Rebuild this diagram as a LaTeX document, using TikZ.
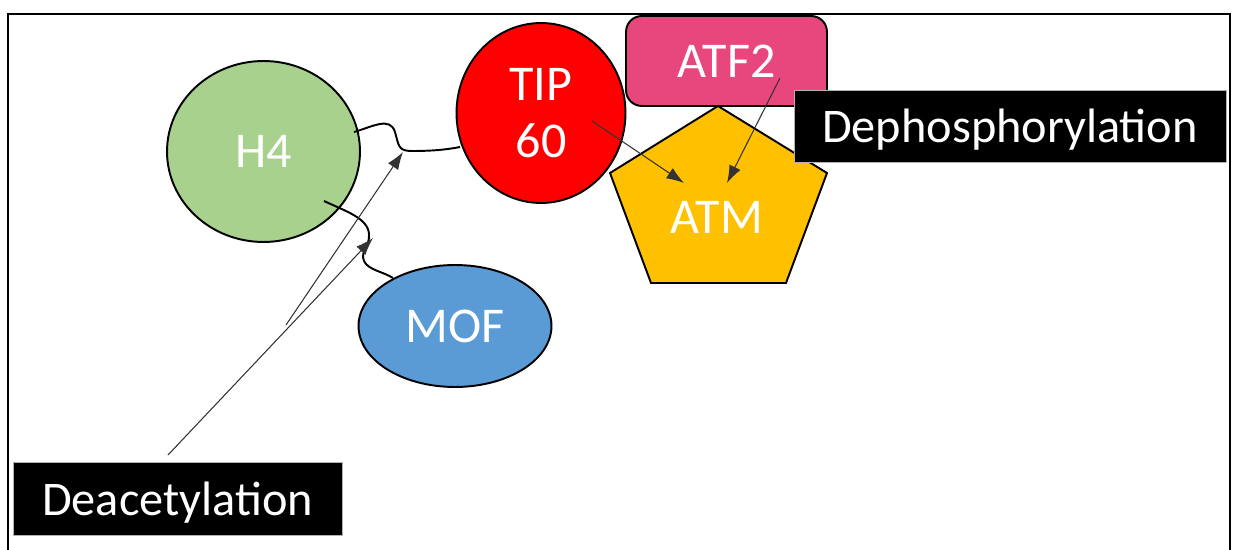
\documentclass[tikz,border=0pt]{standalone}
\usepackage{fontspec}
\setmainfont{Carlito}
\usetikzlibrary{arrows.meta,shapes.geometric}
\definecolor{hgreen}{HTML}{A9D18E}
\definecolor{tipred}{HTML}{FF0000}
\definecolor{atfpink}{HTML}{E8477D}
\definecolor{atmgold}{HTML}{FFC000}
\definecolor{mofblue}{HTML}{5B9BD5}
\tikzset{
  blob/.style={ellipse, draw=black, line width=1.1pt, text=white, font=\fontsize{28.5}{32.5}\selectfont, inner sep=0pt, align=center},
  labelbox/.style={rectangle, fill=black, draw=gray!60, line width=0.4pt, text=white, font=\fontsize{27.5}{30}\selectfont, inner sep=0pt, text depth=0pt},
  thinarrow/.style={draw=black!80, line width=0.6pt, -{Latex[length=10pt,width=7pt]}},
  link/.style={draw=black, line width=1.1pt},
  frame/.style={draw=black, line width=1.2pt}
}
\begin{document}
\begin{tikzpicture}[x=0.02cm,y=-0.02cm]
\useasboundingbox (0,0) rectangle (1235,550);
\draw[frame] (8,552) -- (8,14) -- (1230,14) -- (1230,552);

% nodes
\node[blob, fill=hgreen, minimum width=3.86cm, minimum height=3.62cm] (h4) at (263.5,151.5) {H4};
\node[blob, fill=mofblue, minimum width=3.86cm, minimum height=2.44cm] (mof) at (455,326) {MOF};
\node[blob, fill=tipred, minimum width=3.38cm, minimum height=3.6cm] (tip) at (541,113) {TIP\\60};
\node[rectangle, rounded corners=9pt, draw=black, line width=1.1pt, fill=atfpink, text=white,
      font=\fontsize{28.5}{32}\selectfont, minimum width=4.02cm, minimum height=1.8cm, inner sep=0pt]
      (atf) at (726.5,61) {ATF2};
\draw[draw=black, line width=1.1pt, fill=atmgold]
  (718,106) -- (827,173) -- (786,283) -- (651,283) -- (610,173) -- cycle;
\node[text=white, font=\fontsize{28.5}{32}\selectfont, inner sep=0pt] (atm) at (717,217) {ATM};

\node[labelbox, minimum width=8.64cm, minimum height=1.44cm] (deph) at (1010,126) {Dephosphorylation};
\node[labelbox, minimum width=6.58cm, minimum height=1.46cm] (deac) at (177.5,498.5) {Deacetylation};

% connector anchors
\coordinate (h4a) at (354,132);
\coordinate (tipa) at (460,147);
\coordinate (kink1) at (403,152);
\coordinate (h4b) at (324,201);
\coordinate (mofa) at (393,278);
\coordinate (kink2) at (373,238);
\coordinate (deacTop) at (168,455);
\coordinate (branch) at (286,325);
\coordinate (tipc) at (592,121);
\coordinate (atmA) at (684,183);
\coordinate (atfc) at (780,78);
\coordinate (atmB) at (727,183);

% H4 -- TIP60 bond
\draw[link] (h4a) .. controls (372,127) and (390,116) .. (395,132)
  .. controls (399,146) and (398,151) .. (412,151) .. controls (430,151) and (445,150) .. (tipa);
% H4 -- MOF bond
\draw[link] (h4b) .. controls (345,211) and (368,218) .. (369,234)
  .. controls (370,247) and (360,251) .. (364,261) .. controls (368,270) and (384,272) .. (mofa);

% Deacetylation arrows
\draw[thinarrow] (deacTop) -- (kink2);
\draw[thinarrow] (branch) -- (kink1);

% Dephosphorylation arrows
\draw[thinarrow] (tipc) -- (atmA);
\draw[thinarrow] (atfc) -- (atmB);
\end{tikzpicture}
\end{document}
